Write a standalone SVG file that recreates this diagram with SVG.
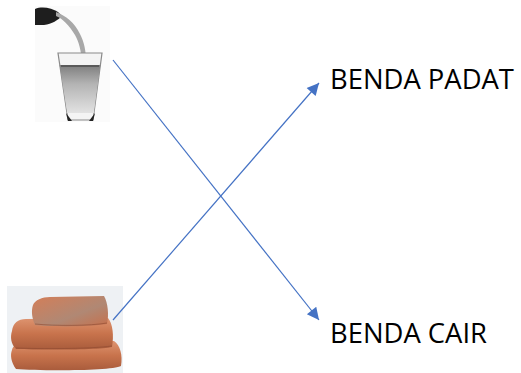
<svg xmlns="http://www.w3.org/2000/svg" width="521" height="373" viewBox="0 0 521 373">
<style>
.lbl{font-family:"Open Sans","Noto Sans","Liberation Sans",sans-serif;font-size:27.4px;fill:#000}
.con{stroke:#4472C4;stroke-width:1.2;fill:none}
</style>
<defs>
<marker id="ah" viewBox="0 0 10 10" refX="10" refY="5" markerWidth="14" markerHeight="12" markerUnits="userSpaceOnUse" orient="auto">
<path d="M0,0 L10,5 L0,10 z" fill="#4472C4"/>
</marker>
<linearGradient id="water" x1="0" y1="0" x2="0" y2="1">
<stop offset="0" stop-color="#7e7e7e"/>
<stop offset="0.4" stop-color="#b4b4b4"/>
<stop offset="1" stop-color="#e2e2e2"/>
</linearGradient>
<linearGradient id="brick" x1="0" y1="0" x2="0" y2="1">
<stop offset="0" stop-color="#de9470"/>
<stop offset="0.5" stop-color="#c8734c"/>
<stop offset="1" stop-color="#a95c3c"/>
</linearGradient>
<linearGradient id="brickTop" x1="0" y1="0" x2="1" y2="1">
<stop offset="0" stop-color="#d47e58"/>
<stop offset="0.6" stop-color="#b08874"/>
<stop offset="1" stop-color="#c6704c"/>
</linearGradient>
</defs>
<rect width="521" height="373" fill="#fff"/>
<g id="glass">
<rect x="35" y="6" width="75" height="116" fill="#fbfbfb"/>
<path d="M35,9 C42,6 52,8 58,12 L62,16 C58,20 52,24 44,25 L35,25 z" fill="#1e1e1e"/>
<path d="M56,12 C66,16 74,22 80,34 C84,42 86,50 86,62 L82,62 C81,50 79,42 75,35 C69,25 63,19 56,16 z" fill="#a8a8a8"/>
<path d="M58,53 L102,53 L93,120 L68,120 z" fill="#f4f4f4" stroke="#8a8a8a" stroke-width="1.2"/>
<path d="M59.6,65 L100.4,65 L93.8,113 L67.2,113 z" fill="url(#water)"/>
<path d="M61,66 L99,66" stroke="#5a5a5a" stroke-width="2"/>
<path d="M66,113 L72,121 L68,121 z M95,113 L89,121 L93,121 z" fill="#222"/>
</g>
<g id="bricks">
<rect x="7" y="286" width="116" height="87" fill="#eef1f4"/>
<path d="M12,350 C13,345 18,342 26,342 L114,341 C120,345 123,355 121,366 C112,371 40,371 16,369 C11,362 10,355 12,350 z" fill="url(#brick)"/>
<path d="M12,331 C13,323 18,319 26,319 L108,318 C113,324 114,336 112,347 C100,350 40,350 16,349 C11,344 10,337 12,331 z" fill="url(#brick)"/>
<path d="M33,305 C35,300 42,297 50,297 L104,296 C108,303 109,315 107,324 C90,327 50,327 35,325 C32,318 31,311 33,305 z" fill="url(#brickTop)"/>
<path d="M35,324 C55,326 90,326 107,323 M16,348 C40,349 90,349 112,346" stroke="#8e4a30" stroke-width="1" fill="none" opacity="0.6"/>
</g>
<g id="connectors">
<line class="con" x1="113" y1="60" x2="319" y2="320" marker-end="url(#ah)"/>
<line class="con" x1="113" y1="320" x2="319" y2="83" marker-end="url(#ah)"/>
</g>
<g id="benda-padat"><text class="lbl" x="330" y="89">BENDA PADAT</text></g>
<g id="benda-cair"><text class="lbl" x="330" y="343">BENDA CAIR</text></g>
</svg>
